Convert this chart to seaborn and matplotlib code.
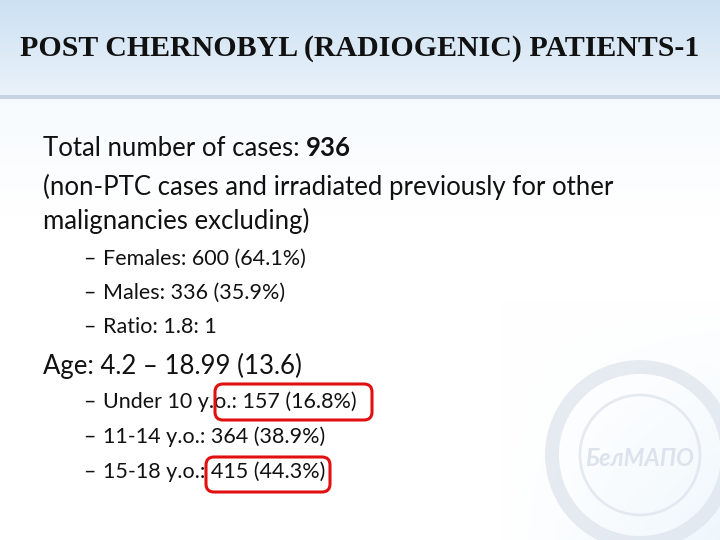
import numpy as np
import matplotlib
matplotlib.use("Agg")
import matplotlib.pyplot as plt
import seaborn as sns
from matplotlib.patches import FancyBboxPatch, Circle

sns.set_theme(style="white")
plt.rcParams['font.family'] = ['Lato', 'DejaVu Sans']

title = "POST CHERNOBYL (RADIOGENIC) PATIENTS-1"
total_label = "Total number of cases: "
total_value = "936"
note_lines = ["(non-PTC cases and irradiated previously for other", "malignancies excluding)"]
sex_items = ["Females: 600 (64.1%)", "Males: 336 (35.9%)", "Ratio: 1.8: 1"]
age_line = "Age: 4.2 – 18.99 (13.6)"
age_items = ["Under 10 y.o.: 157 (16.8%)", "11-14 y.o.: 364 (38.9%)", "15-18 y.o.: 415 (44.3%)"]

fig = plt.figure(figsize=(7.2, 5.4), dpi=100)
ax = fig.add_axes([0, 0, 1, 1])
ax.set_xlim(0, 720)
ax.set_ylim(540, 0)
ax.axis("off")

# background: bluish top band, light body
h, w = 540, 720
yy, xx = np.mgrid[0:h, 0:w]
t = yy / 95.0
top = np.stack([0.80 + 0.12 * t, 0.88 + 0.07 * t, 0.95 + 0.03 * t], axis=-1)
body_fade = np.clip(1 - (yy - 95) / 120.0, 0, 1)[..., None] * 0.06
corner = np.clip((xx - 500) / 220.0, 0, 1)[..., None] * np.clip((yy - 300) / 240.0, 0, 1)[..., None] * 0.08
body = np.ones((h, w, 3)) - body_fade * np.array([0.6, 0.3, 0.1]) - corner * np.array([0.8, 0.4, 0.1])
bg = np.where((yy < 95)[..., None], top, body)
bg[95:99] = np.array([0.78, 0.83, 0.89])
ax.imshow(np.clip(bg, 0, 1), extent=(0, 720, 540, 0), aspect="auto", zorder=0)

# faint watermark emblem
wm = "#dde3ec"
ax.add_patch(Circle((640, 455), 88, fill=False, lw=10, ec=wm, alpha=0.7, zorder=1))
ax.add_patch(Circle((640, 455), 60, fill=False, lw=2, ec=wm, alpha=0.7, zorder=1))
ax.text(640, 458, "БелМАПО", fontsize=17, color=wm, ha="center", va="center",
        fontweight="bold", style="italic", zorder=1)

ax.text(360, 48, title, fontsize=21.5, fontweight="bold", ha="center", va="center",
        family=["Liberation Serif", "DejaVu Serif"], color="#111111", zorder=3)

big, small = 18.5, 15.5
txt = ax.text(43, 148, total_label, fontsize=big, va="center", color="#111111", zorder=3)
fig.canvas.draw()
bb = txt.get_window_extent().transformed(ax.transData.inverted())
ax.text(bb.x1, 148, total_value, fontsize=big, va="center", fontweight="bold", color="#111111", zorder=3)
for i, line in enumerate(note_lines):
    ax.text(43, 187 + 34 * i, line, fontsize=big, va="center", color="#111111", zorder=3)
for i, item in enumerate(sex_items):
    y = 259 + 34 * i
    ax.text(83, y, "–", fontsize=small, va="center", color="#111111", zorder=3)
    ax.text(103, y, item, fontsize=small, va="center", color="#111111", zorder=3)
ax.text(43, 366, age_line, fontsize=big, va="center", color="#111111", zorder=3)
for i, item in enumerate(age_items):
    y = 402 + 35 * i
    ax.text(83, y, "–", fontsize=small, va="center", color="#111111", zorder=3)
    ax.text(103, y, item, fontsize=small, va="center", color="#111111", zorder=3)

for (x0, y0, x1, y1) in [(215, 384, 372, 420), (206, 457, 330, 492)]:
    ax.add_patch(FancyBboxPatch((x0, y0), x1 - x0, y1 - y0, boxstyle="round,pad=0,rounding_size=8",
                                fill=False, ec="#e01010", lw=2.2, zorder=4))

fig.savefig("out.png", dpi=100)
